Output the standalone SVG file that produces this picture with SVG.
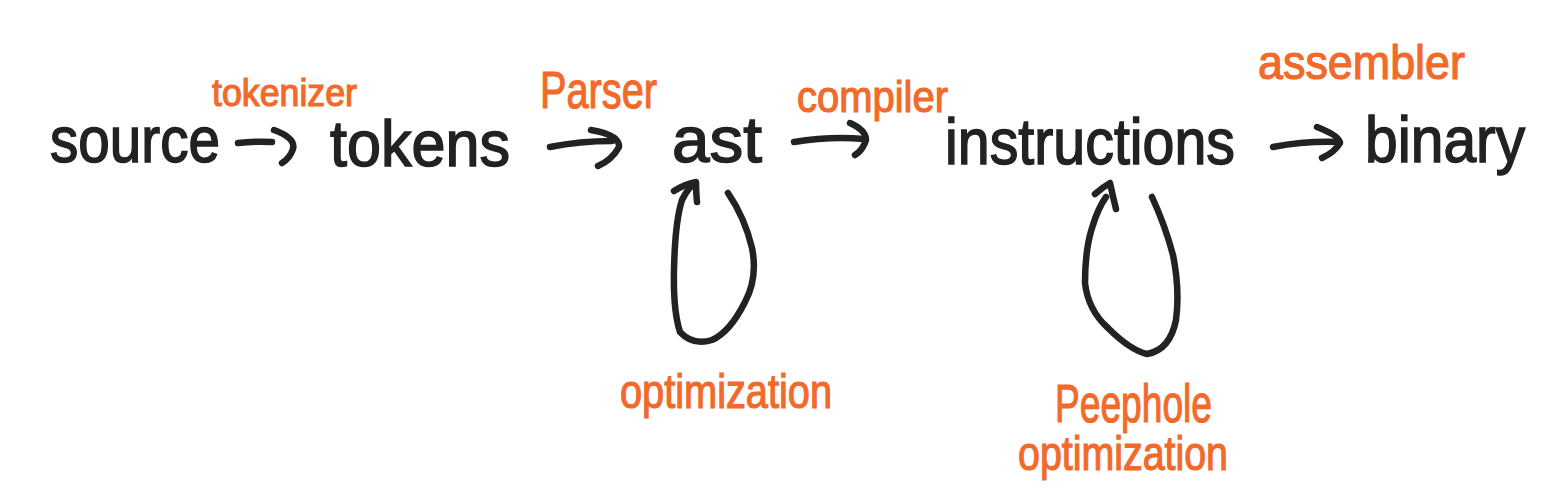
<svg xmlns="http://www.w3.org/2000/svg" width="1555" height="504" viewBox="0 0 1555 504">
<style>
.bg{fill:#ffffff}
.node{font-family:"Liberation Sans","DejaVu Sans",sans-serif;font-size:64px;fill:#222222;stroke:#222222;stroke-width:1.5px}
.lbl{font-family:"Liberation Sans","DejaVu Sans",sans-serif;fill:#F26A2A;stroke:#F26A2A;stroke-width:1.2px}
.ink{fill:none;stroke:#222222;stroke-width:6.5;stroke-linecap:round;stroke-linejoin:round}
</style>
<rect class="bg" x="0" y="0" width="1555" height="504"/>
<g id="connectors">
  <g id="e-source-tokens">
    <path class="ink" d="M238,143 Q255,141 272,142"/>
    <path class="ink" d="M274,130 Q296,138 293,149 Q290,158 282,163"/>
    <text class="lbl" x="212" y="106" font-size="38" textLength="145" lengthAdjust="spacingAndGlyphs">tokenizer</text>
  </g>
  <g id="e-tokens-ast">
    <path class="ink" d="M550,147 Q580,141 612,141"/>
    <path class="ink" d="M591,130 Q620,135 619,147 Q612,160 598,166"/>
    <text class="lbl" x="540" y="108" font-size="52" textLength="117" lengthAdjust="spacingAndGlyphs">Parser</text>
  </g>
  <g id="e-ast-instructions">
    <path class="ink" d="M794,142 Q830,136 864,139"/>
    <path class="ink" d="M850,123 Q866,130 866,140 Q863,150 855,155"/>
    <text class="lbl" x="797" y="112" font-size="44" textLength="151" lengthAdjust="spacingAndGlyphs">compiler</text>
  </g>
  <g id="e-instructions-binary">
    <path class="ink" d="M1273,147 Q1305,141 1337,142"/>
    <path class="ink" d="M1317,127 Q1340,136 1340,143 Q1335,152 1322,158"/>
    <text class="lbl" x="1258" y="79" font-size="48" textLength="207" lengthAdjust="spacingAndGlyphs">assembler</text>
  </g>
  <g id="e-ast-loop">
    <path class="ink" d="M728,193 Q745,218 752,248 Q758,278 745,302 Q730,332 712,340 Q693,346 680,332 Q673,310 674,270 Q675,222 682,200 Q688,188 694,184"/>
    <path class="ink" d="M674,191 Q685,184 696,182 Q696,193 697,202"/>
    <text class="lbl" x="620" y="408" font-size="48" textLength="212" lengthAdjust="spacingAndGlyphs">optimization</text>
  </g>
  <g id="e-instructions-loop">
    <path class="ink" d="M1152,197 Q1165,225 1173,255 Q1180,290 1176,320 Q1170,350 1147,354 Q1130,350 1108,328 Q1088,310 1085,283 Q1085,250 1092,228 Q1098,208 1106,197"/>
    <path class="ink" d="M1095,194 Q1103,187 1110,183 Q1113,197 1116,209"/>
    <text class="lbl" x="1055" y="422" font-size="54" textLength="157" lengthAdjust="spacingAndGlyphs">Peephole</text>
    <text class="lbl" x="1018" y="470" font-size="48" textLength="210" lengthAdjust="spacingAndGlyphs">optimization</text>
  </g>
</g>
<g id="source"><text class="node" x="50" y="162" textLength="170" lengthAdjust="spacingAndGlyphs">source</text></g>
<g id="tokens"><text class="node" x="330" y="166" textLength="180" lengthAdjust="spacingAndGlyphs">tokens</text></g>
<g id="ast"><text class="node" x="672" y="162" textLength="90" lengthAdjust="spacingAndGlyphs">ast</text></g>
<g id="instructions"><text class="node" x="945" y="164" textLength="290" lengthAdjust="spacingAndGlyphs">instructions</text></g>
<g id="binary"><text class="node" x="1365" y="162" textLength="160" lengthAdjust="spacingAndGlyphs">binary</text></g>
</svg>
